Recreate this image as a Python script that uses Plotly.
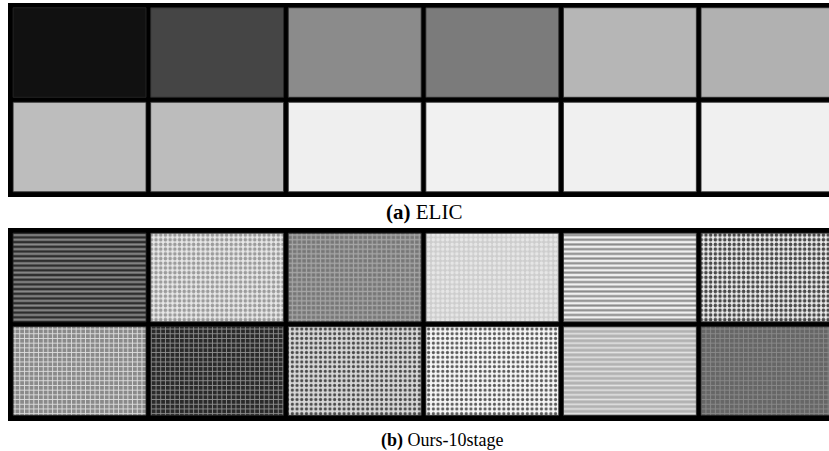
import plotly.graph_objects as go

# ---------------- data ----------------
columns = [0, 1, 2, 3, 4, 5]
rows = [1, 0]  # top row, bottom row

# Panel (a) ELIC: grey level of each tile (textures are nearly invisible)
elic_top = ["#111111", "#454545", "#8b8b8b", "#7b7b7b", "#b6b6b6", "#b1b1b1"]
elic_bot = ["#bdbdbd", "#bcbcbc", "#efefef", "#f1f1f1", "#f0f0f0", "#f0f0f0"]

# Panel (b) Ours-10stage: background grey, texture grey, texture type
ours_top_bg = ["#2e2e2e", "#e8e8e8", "#767676", "#cdcdcd", "#f0f0f0", "#ececec"]
ours_top_fg = ["#8a8a8a", "#9c9c9c", "#a6a6a6", "#e6e6e6", "#8a8a8a", "#4a4a4a"]
ours_top_shape = ["-", ".", "+", ".", "-", "."]
ours_bot_bg = ["#8a8a8a", "#2a2a2a", "#d6d6d6", "#f6f6f6", "#b2b2b2", "#666666"]
ours_bot_fg = ["#dedede", "#8e8e8e", "#4a4a4a", "#5a5a5a", "#e4e4e4", "#8a8a8a"]
ours_bot_shape = ["+", "+", ".", ".", "-", "+"]

captions = ["<b>(a)</b> ELIC", "<b>(b)</b> Ours-10stage"]

# ---------------- figure ----------------
W, H = 829, 451
TILE_W = 0.966
TILE_H = 0.948

fig = go.Figure()


def add_tile(col, row, bg, xa, ya, fg=None, shape=None, size=4.7, solidity=0.45):
    marker = dict(color=bg, line=dict(width=0.8, color="#2a2a2a"))
    if shape is not None:
        marker["pattern"] = dict(shape=shape, fgcolor=fg, bgcolor=bg,
                                 size=size, solidity=solidity,
                                 fillmode="replace", fgopacity=1)
    fig.add_trace(go.Bar(
        x=[col], y=[TILE_H], base=[row - TILE_H / 2], width=TILE_W,
        marker=marker, xaxis=xa, yaxis=ya,
        showlegend=False, hoverinfo="skip",
    ))


for i, c in enumerate(columns):
    # panel (a)
    add_tile(c, rows[0], elic_top[i], "x", "y")
    add_tile(c, rows[1], elic_bot[i], "x", "y")
    # panel (b)
    add_tile(c, rows[0], ours_top_bg[i], "x2", "y2",
             ours_top_fg[i], ours_top_shape[i], 4.7, 0.45)
    add_tile(c, rows[1], ours_bot_bg[i], "x2", "y2",
             ours_bot_fg[i], ours_bot_shape[i], 4.7, 0.35)

xr = [-0.52, 5.447]
xdom = [8 / W, 1.0]
fig.update_layout(
    width=W, height=H,
    margin=dict(l=0, r=0, t=0, b=0),
    paper_bgcolor="white",
    plot_bgcolor="black",
    barmode="overlay",
    xaxis=dict(domain=xdom, range=xr, visible=False, fixedrange=True),
    yaxis=dict(domain=[1 - 197 / H, 1 - 3 / H], range=[-0.529, 1.524],
               visible=False, fixedrange=True),
    xaxis2=dict(domain=xdom, range=xr, visible=False, fixedrange=True,
                anchor="y2"),
    yaxis2=dict(domain=[1 - 421 / H, 1 - 228 / H], range=[-0.535, 1.529],
                visible=False, fixedrange=True, anchor="x2"),
    annotations=[
        dict(text=captions[0], x=424 / W, y=1 - 212 / H, xref="paper",
             yref="paper", showarrow=False, xanchor="center", yanchor="middle",
             font=dict(family="Liberation Serif", size=21, color="black")),
        dict(text=captions[1], x=442 / W, y=1 - 440 / H, xref="paper",
             yref="paper", showarrow=False, xanchor="center", yanchor="middle",
             font=dict(family="Liberation Serif", size=18, color="black")),
    ],
)

fig.write_html(
    "out.html",
    config={"displayModeBar": False},
    post_script="document.body.style.margin='0';"
                "document.body.style.overflow='hidden';",
)
